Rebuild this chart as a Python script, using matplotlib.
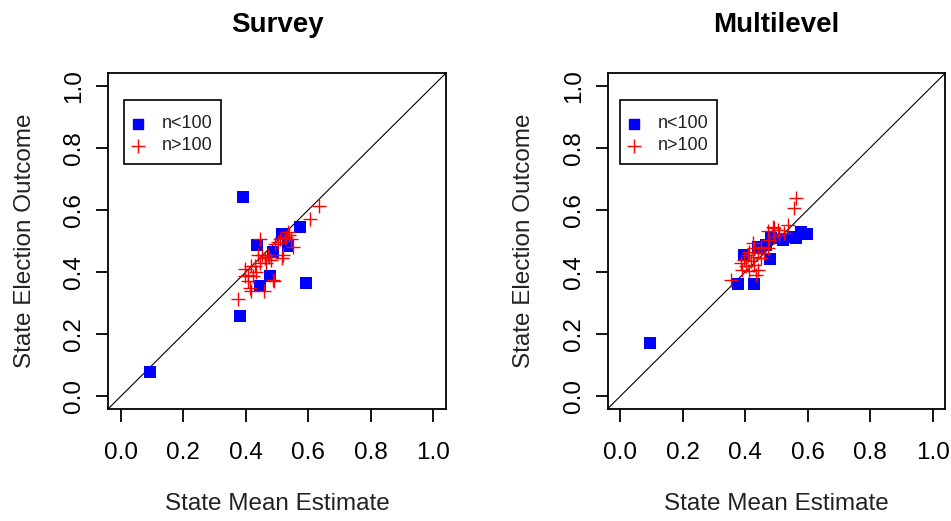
import matplotlib
matplotlib.use("Agg")
import matplotlib.pyplot as plt
from matplotlib.patches import Rectangle

plt.rcParams['font.family'] = ['Liberation Sans', 'DejaVu Sans']

# ---- data ----
survey_small_x = [0.092, 0.392, 0.380, 0.435, 0.444, 0.478, 0.487, 0.516, 0.536, 0.573, 0.592]
survey_small_y = [0.077, 0.642, 0.260, 0.486, 0.355, 0.388, 0.466, 0.521, 0.484, 0.546, 0.364]

survey_large_x = [0.374, 0.396, 0.399, 0.406, 0.412, 0.417, 0.417, 0.422, 0.433, 0.438,
                  0.444, 0.446, 0.458, 0.460, 0.464, 0.470, 0.475, 0.481, 0.486, 0.490,
                  0.502, 0.510, 0.518, 0.515, 0.525, 0.529, 0.535, 0.540, 0.545, 0.550,
                  0.606, 0.634, 0.428, 0.452, 0.494, 0.408]
survey_large_y = [0.314, 0.410, 0.386, 0.370, 0.349, 0.340, 0.418, 0.386, 0.400, 0.456,
                  0.506, 0.428, 0.338, 0.445, 0.430, 0.456, 0.448, 0.440, 0.376, 0.372,
                  0.498, 0.505, 0.456, 0.446, 0.510, 0.514, 0.528, 0.520, 0.505, 0.482,
                  0.570, 0.612, 0.420, 0.455, 0.490, 0.392]

multi_small_x = [0.096, 0.378, 0.429, 0.395, 0.480, 0.467, 0.483, 0.520, 0.552, 0.563, 0.579, 0.598, 0.440]
multi_small_y = [0.171, 0.360, 0.360, 0.456, 0.442, 0.488, 0.509, 0.504, 0.514, 0.509, 0.530, 0.523, 0.482]

multi_large_x = [0.563, 0.555, 0.536, 0.488, 0.504, 0.472, 0.509, 0.493, 0.525, 0.477,
                 0.424, 0.429, 0.451, 0.413, 0.440, 0.408, 0.424, 0.451, 0.397, 0.419,
                 0.386, 0.402, 0.429, 0.391, 0.440, 0.413, 0.435, 0.354, 0.472, 0.461, 0.493]
multi_large_y = [0.637, 0.605, 0.552, 0.546, 0.536, 0.531, 0.520, 0.514, 0.525, 0.504,
                 0.493, 0.477, 0.482, 0.466, 0.461, 0.456, 0.450, 0.445, 0.440, 0.434,
                 0.429, 0.418, 0.424, 0.408, 0.408, 0.403, 0.392, 0.376, 0.477, 0.461, 0.541]

titles = ["Survey", "Multilevel"]
ticks = [0.0, 0.2, 0.4, 0.6, 0.8, 1.0]
tick_labels = ["0.0", "0.2", "0.4", "0.6", "0.8", "1.0"]
legend_labels = ["n<100", "n>100"]

W, H = 951, 521
AX_W, AX_H = 337.4, 335.4
AX_BOTTOM_PX = 408.7
fig = plt.figure(figsize=(W / 100, H / 100), dpi=100)

panels = [
    (survey_small_x, survey_small_y, survey_large_x, survey_large_y, 108.3, 15.7),
    (multi_small_x, multi_small_y, multi_large_x, multi_large_y, 607.7, 12.3),
]

for i, (sx, sy, lx, ly, left_px, leg_off) in enumerate(panels):
    ax = fig.add_axes([left_px / W, 1 - AX_BOTTOM_PX / H, AX_W / W, AX_H / H])
    ax.set_xlim(-0.04, 1.04)
    ax.set_ylim(-0.04, 1.04)
    ax.plot([-0.04, 1.04], [-0.04, 1.04], color='black', lw=0.8, zorder=1)
    ax.scatter(sx, sy, marker='s', s=80, color='#0000ff', linewidths=0, zorder=3)
    ax.scatter(lx, ly, marker='+', s=90, color='#ff0000', linewidths=1.0, zorder=4)
    for sp in ax.spines.values():
        sp.set_linewidth(1.3)
    ax.set_xticks(ticks)
    ax.set_xticklabels(tick_labels)
    ax.set_yticks(ticks)
    ax.set_yticklabels(tick_labels, rotation=90, va='center')
    ax.tick_params(axis='both', direction='out', length=9, width=1.3, labelsize=17.5,
                   colors='black')
    ax.tick_params(axis='x', pad=15)
    ax.tick_params(axis='y', pad=7.5)
    ax.set_title(titles[i], fontsize=20, fontweight='bold', pad=30)
    ax.set_xlabel("State Mean Estimate", fontsize=17.5, labelpad=21, color='#222222')
    ax.set_ylabel("State Election Outcome", fontsize=17.5, labelpad=20, color='#222222')

    # manual legend box (R style)
    def fx(px):
        return px / AX_W

    def fy(py_from_top):
        return (AX_BOTTOM_PX - py_from_top) / AX_H

    bx0 = leg_off
    ax.add_patch(Rectangle((fx(bx0), fy(164.3)), fx(97), (164.3 - 100) / AX_H,
                           transform=ax.transAxes, facecolor='white',
                           edgecolor='black', lw=1.2, zorder=5))
    ax.plot([fx(bx0 + 13.7)], [fy(124)], marker='s', markersize=7, color='#0000ff',
            linestyle='none', transform=ax.transAxes, zorder=6)
    ax.plot([fx(bx0 + 13.7)], [fy(145.7)], marker='+', markersize=10, color='#ff0000',
            markeredgewidth=1.0, linestyle='none', transform=ax.transAxes, zorder=6)
    for lab, yy in zip(legend_labels, [124, 145.7]):
        ax.text(fx(bx0 + 37.7), fy(yy), lab, transform=ax.transAxes, fontsize=13,
                ha='left', va='center', color='#222222', zorder=6)

fig.savefig("out.png", dpi=100, facecolor='white')
